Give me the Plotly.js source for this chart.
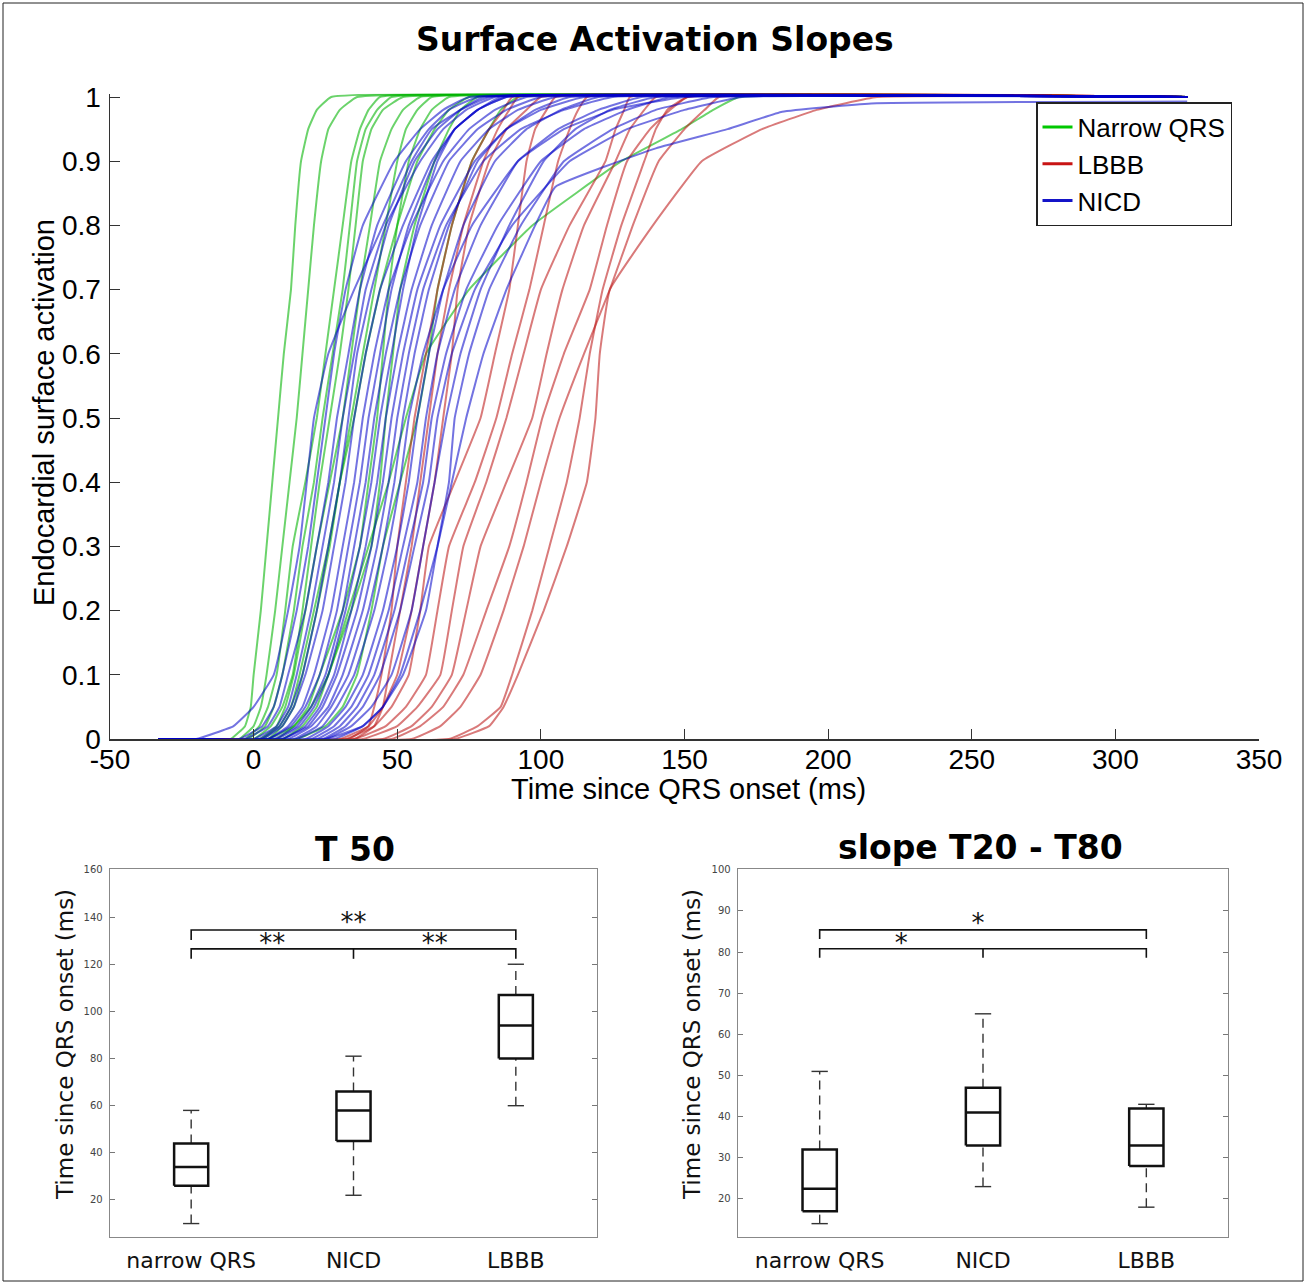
<!DOCTYPE html>
<html>
<head>
<meta charset="utf-8">
<script src="https://cdn.plot.ly/plotly-3.0.1.min.js"></script>
<style>html,body{margin:0;padding:0;background:#fff;}#chart{width:1306px;height:1284px;}</style>
</head>
<body>
<div id="chart"></div>
<script>
// ---------------- DATA ----------------
// Recording window (ms since QRS onset)
const WINDOW = [-33, 325];
// Activation levels at which each curve's time was read (first entry = last time at 0)
const LEVELS = [0, 0.02, 0.05, 0.1, 0.2, 0.3, 0.4, 0.5, 0.6, 0.7, 0.8, 0.9, 0.95, 0.98, 1];
const xTickVals = [-50, 0, 50, 100, 150, 200, 250, 300, 350];
const xTickText = ['-50', '0', '50', '100', '150', '200', '250', '300', '350'];

// Narrow QRS curves: time (ms) at each LEVELS value
const narrowQRS = [
  [-8, -3, -1, 0, 2.5, 4.5, 6.5, 8.5, 10.5, 13, 14.5, 16.5, 19, 22, 27],
  [-5, 0, 2.5, 4.5, 7.5, 10, 12.5, 15, 17, 19, 21, 23.5, 26, 30, 36],
  [-3, 2, 5, 8, 11, 13.6, 18, 22, 25, 28, 31, 34, 37, 40, 44],
  [-2, 4, 7, 10, 14, 17, 21, 24, 27.5, 31, 33.5, 36, 39, 43, 48],
  [0, 6, 10, 13.6, 17, 20, 23, 26.5, 30, 33, 35.5, 38, 41, 45, 52],
  [2, 8, 11, 14, 18, 22, 26.5, 31, 34, 37, 40.5, 44, 48, 52, 58],
  [3, 9, 13, 16, 21, 26, 30, 35, 39, 44, 50, 57, 63, 68, 75],
  [5, 10, 14, 17, 22, 26.5, 30, 34, 38, 42, 46, 50, 53, 57, 62],
  [8, 14, 19, 23, 31, 37, 40, 43, 45, 47, 50, 54, 58, 62, 68],
  [10, 17, 22, 26, 34, 41, 44, 46, 48.5, 51, 56, 63, 68, 72, 78],
  [15, 25, 31, 36, 41, 45, 51, 57, 61, 64, 69, 76, 82, 86, 92],
  [5, 14, 20, 26, 33, 40, 47, 53, 60, 75, 97, 128, 149, 160, 169]
];

// LBBB curves
const lbbb = [
  [33, 40, 42, 44.5, 48, 50, 53, 56, 60, 64, 69, 76, 82, 87, 90],
  [35, 42, 45, 47, 51, 55, 58, 61, 64, 68, 73, 80, 85, 89, 92],
  [30, 40, 45, 50, 55, 59, 63, 66, 69, 71, 75, 82, 88, 95, 100],
  [32, 42, 48, 54, 58, 61, 70, 79, 84, 89, 92, 95, 98, 102, 105],
  [35, 46, 53, 60, 64, 68, 77, 84.5, 90, 96, 101, 106, 110, 113, 116],
  [38, 50, 57, 65, 69, 73, 81, 88, 94, 100, 110, 122.5, 126, 129, 131],
  [45, 55, 62, 69, 74, 79, 88, 97, 102, 107.5, 115, 126, 131, 136, 140],
  [48, 58, 66, 73, 81, 89, 95, 100.5, 108, 117, 123, 130, 138, 145, 151],
  [55, 65, 72, 79, 87, 94, 100, 106.5, 115, 124, 132, 141, 150, 157, 162],
  [68, 78, 86, 90, 97, 103, 109, 113.5, 117, 121.5, 128, 136, 140, 144, 151],
  [70, 82, 87, 92, 101, 109, 116, 119, 120.5, 124, 139, 156, 177, 196, 217]
];

// NICD curves
const nicd = [
  [-20, -7, 0, 7, 12, 16, 18.5, 21, 26, 35, 45, 55, 62, 72, 82],
  [-5, 3, 7, 10, 15, 19, 22, 25, 28, 32, 38, 49, 58, 66, 75],
  [-3, 5, 9, 12, 18, 22, 26, 29, 33, 37, 43, 53, 61, 68, 78],
  [0, 8, 12, 15, 20, 24, 28, 31, 35, 39, 46, 58, 66, 74, 84],
  [2, 9, 13, 17, 22, 26, 30, 33, 36, 41, 47, 56, 64, 72, 80],
  [3, 10, 14, 18, 24, 28, 32, 35, 39, 44, 52, 62, 70, 78, 88],
  [5, 12, 17, 21, 27, 31, 35, 38, 42, 47, 55, 66, 75, 84, 95],
  [5, 13, 18, 23, 29, 33, 37, 40, 44, 48, 54, 63, 70, 78, 86],
  [7, 15, 20, 25, 31, 35, 39, 42, 46, 51, 58, 68, 78, 88, 100],
  [8, 16, 21, 26, 32, 37, 41, 44, 48, 52, 57, 64, 70, 78, 88],
  [10, 18, 23, 28, 34, 39, 43, 46, 50, 55, 62, 72, 82, 92, 105],
  [10, 19, 24, 29, 36, 41, 45, 48, 52, 57, 65, 77, 88, 100, 115],
  [12, 20, 26, 31, 38, 43, 47, 50, 54, 59, 67, 80, 93, 108, 125],
  [14, 22, 27, 33, 40, 45, 49, 52, 56, 61, 68, 78, 88, 98, 110],
  [15, 24, 29, 35, 42, 47, 51, 54, 59, 66, 76, 92, 108, 125, 150],
  [18, 26, 32, 38, 45, 50, 54, 57, 61, 66, 73, 84, 95, 107, 120],
  [20, 28, 34, 40, 47, 52, 57, 60, 64, 70, 79, 92, 106, 120, 135],
  [22, 30, 36, 42, 49, 54, 59, 62, 67, 74, 85, 100, 115, 130, 145],
  [24, 32, 38, 44, 51, 56, 61, 64, 69, 77, 90, 110, 130, 150, 170],
  [25, 34, 41, 48, 55, 59, 63, 67, 72, 79, 89, 101, 112, 124, 140],
  [28, 38, 45, 52, 60, 64, 68, 70, 75, 82, 93, 108, 125, 140, 160]
];
// One NICD curve that never fully reaches 1
const nicdSlowLevels = [0, 0.02, 0.05, 0.1, 0.2, 0.3, 0.4, 0.5, 0.6, 0.7, 0.8, 0.86, 0.92, 0.95, 0.977, 0.99, 0.993];
const nicdSlowTimes  = [25, 38, 45, 51, 58, 64, 69, 74, 80, 88, 98, 105, 140, 165, 184, 215, 325];

// Box plot summaries (ms)
const groups = ['narrow QRS', 'NICD', 'LBBB'];
const t50Low  = [10, 22, 60];
const t50Q1   = [26, 45, 80];
const t50Med  = [34, 58, 94];
const t50Q3   = [44, 66, 107];
const t50High = [58, 81, 120];

const slopeLow  = [14, 23, 18];
const slopeQ1   = [17, 33, 28];
const slopeMed  = [22.5, 41, 33];
const slopeQ3   = [32, 47, 42];
const slopeHigh = [51, 65, 43];

// Significance brackets: [from group, to group, level, mid tick group or null]
const t50Brackets   = [[1, 3, 134.5, null], [1, 3, 126.5, 2]];
const t50Stars      = ['**', '**', '**'];
const t50StarX      = [2, 1.5, 2.5];
const t50StarY      = [136.8, 128, 128];
const slopeBrackets = [[1, 3, 85.4, null], [1, 3, 80.8, 2]];
const slopeStars    = ['*', '*'];
const slopeStarX    = [1.97, 1.5];
const slopeStarY    = [86.5, 81.7];

// ---------------- BUILD ----------------
const W = 1306, H = 1284;
const px = v => v / W;
const py = v => (H - v) / H;

const traces = [];
function curve(times, levels, color) {
  const x = [WINDOW[0]].concat(times);
  const y = [0].concat(levels);
  if (x[x.length - 1] < WINDOW[1]) { x.push(WINDOW[1]); y.push(levels[levels.length - 1]); }
  traces.push({type: 'scatter', mode: 'lines', x: x, y: y, xaxis: 'x', yaxis: 'y',
    line: {color: color, width: 2, shape: 'spline', smoothing: 0.3}, showlegend: false, hoverinfo: 'skip'});
}
const cG = 'rgba(0,180,0,0.58)', cR = 'rgba(190,25,25,0.58)', cB = 'rgba(0,0,200,0.55)';
narrowQRS.forEach(t => curve(t, LEVELS, cG));
lbbb.forEach(t => curve(t, LEVELS, cR));
nicd.forEach(t => curve(t, LEVELS, cB));
curve(nicdSlowTimes, nicdSlowLevels, cB);

// legend entries
[['Narrow QRS', 'rgb(0,200,0)'], ['LBBB', 'rgb(200,20,20)'], ['NICD', 'rgb(20,20,200)']].forEach(d => {
  traces.push({type: 'scatter', mode: 'lines', x: [null], y: [null], name: d[0], xaxis: 'x', yaxis: 'y',
    line: {color: d[1], width: 3}, showlegend: true});
});

function boxPlot(xa, ya, low, q1, med, q3, high, brackets, stars, starX, starY, drop) {
  const hw = 0.105, cw = 0.05;
  const bx = [], by = [], wx = [], wy = [], kx = [], ky = [];
  for (let i = 0; i < groups.length; i++) {
    const c = i + 1;
    bx.push(c - hw, c + hw, c + hw, c - hw, c - hw, null, c - hw, c + hw, null);
    by.push(q1[i], q1[i], q3[i], q3[i], q1[i], null, med[i], med[i], null);
    wx.push(c, c, null, c, c, null);
    wy.push(q3[i], high[i], null, low[i], q1[i], null);
    kx.push(c - cw, c + cw, null, c - cw, c + cw, null);
    ky.push(high[i], high[i], null, low[i], low[i], null);
  }
  traces.push({type: 'scatter', mode: 'lines', x: wx, y: wy, xaxis: xa, yaxis: ya, showlegend: false,
    line: {color: '#333', width: 1.4, dash: '9px,6px'}, hoverinfo: 'skip'});
  traces.push({type: 'scatter', mode: 'lines', x: kx, y: ky, xaxis: xa, yaxis: ya, showlegend: false,
    line: {color: '#333', width: 1.4}, hoverinfo: 'skip'});
  traces.push({type: 'scatter', mode: 'lines', x: bx, y: by, xaxis: xa, yaxis: ya, showlegend: false,
    line: {color: '#111', width: 2.5}, hoverinfo: 'skip'});
  const gx = [], gy = [];
  brackets.forEach(b => {
    gx.push(b[0], b[0], b[1], b[1], null);
    gy.push(b[2] - drop, b[2], b[2], b[2] - drop, null);
    if (b[3] !== null) { gx.push(b[3], b[3], null); gy.push(b[2], b[2] - drop, null); }
  });
  traces.push({type: 'scatter', mode: 'lines', x: gx, y: gy, xaxis: xa, yaxis: ya, showlegend: false,
    line: {color: '#111', width: 1.6}, hoverinfo: 'skip'});
  traces.push({type: 'scatter', mode: 'text', x: starX, y: starY, text: stars, xaxis: xa, yaxis: ya,
    showlegend: false, textposition: 'middle center', cliponaxis: false,
    textfont: {family: 'DejaVu Sans', size: 26, color: '#111'}, hoverinfo: 'skip'});
}
boxPlot('x2', 'y2', t50Low, t50Q1, t50Med, t50Q3, t50High, t50Brackets, t50Stars, t50StarX, t50StarY, 4.2);
boxPlot('x3', 'y3', slopeLow, slopeQ1, slopeMed, slopeQ3, slopeHigh, slopeBrackets, slopeStars, slopeStarX, slopeStarY, 2.2);

const topFont = {family: 'Liberation Sans, Arial, sans-serif', size: 28, color: '#000'};
const boxYAxis = (dom, range, dtick) => ({
  domain: dom, range: range, dtick: dtick, tick0: 0, ticks: 'inside', ticklen: 5, tickcolor: '#777',
  mirror: 'allticks', showline: true, linecolor: '#888', linewidth: 1.3, showgrid: false, zeroline: false,
  tickfont: {family: 'DejaVu Sans', size: 10, color: '#444'}, ticklabelstandoff: 4
});
const boxXAxis = (dom, anchor) => ({
  domain: dom, range: [0.5, 3.5], tickvals: [1, 2, 3], ticktext: groups, ticks: '', anchor: anchor,
  mirror: true, showline: true, linecolor: '#888', linewidth: 1.3, showgrid: false, zeroline: false,
  tickfont: {family: 'DejaVu Sans', size: 22, color: '#111'}, ticklabelstandoff: 3
});
const ann = (text, x, y, font, angle) => ({text: text, x: px(x), y: py(y), xref: 'paper', yref: 'paper',
  xanchor: 'center', yanchor: 'middle', showarrow: false, textangle: angle || 0, font: font});
const titleFont = {family: 'DejaVu Sans', size: 33, color: '#000', weight: 'bold'};
const axFont = {family: 'Liberation Sans, Arial, sans-serif', size: 29, color: '#000'};
const boxTitleFont = {family: 'DejaVu Sans', size: 23, color: '#111'};

const layout = {
  width: W, height: H, margin: {l: 0, r: 0, t: 0, b: 0},
  paper_bgcolor: '#fff', plot_bgcolor: 'rgba(0,0,0,0)', showlegend: true,
  xaxis: {domain: [px(110), px(1259)], range: [-50, 350], tickvals: xTickVals, ticktext: xTickText, anchor: 'y',
    ticks: 'inside', ticklen: 10, tickcolor: '#333', showline: true, linecolor: '#333', linewidth: 1.5,
    showgrid: false, zeroline: false, tickfont: topFont, ticklabelstandoff: -5},
  yaxis: {domain: [py(739), py(93.8)], range: [0, 1.005], dtick: 0.1, tick0: 0, anchor: 'x',
    ticks: 'inside', ticklen: 10, tickcolor: '#333', showline: true, linecolor: '#333', linewidth: 1.5,
    showgrid: false, zeroline: false, tickfont: topFont, ticklabelstandoff: 2},
  xaxis2: boxXAxis([px(110), px(597)], 'y2'),
  yaxis2: Object.assign(boxYAxis([py(1237), py(869)], [4.3, 160.4], 20), {anchor: 'x2'}),
  xaxis3: boxXAxis([px(738), px(1228)], 'y3'),
  yaxis3: Object.assign(boxYAxis([py(1237), py(869)], [10.75, 100.2], 10), {anchor: 'x3'}),
  legend: {x: px(1036), y: py(102), xanchor: 'left', yanchor: 'top', bgcolor: '#fff',
    bordercolor: '#222', borderwidth: 1.5, font: {family: 'Liberation Sans, Arial, sans-serif', size: 26, color: '#000'},
    tracegroupgap: 0, itemwidth: 30},
  annotations: [
    ann('Surface Activation Slopes', 655, 39, titleFont),
    ann('Endocardial surface activation', 44, 413, axFont, -90),
    ann('Time since QRS onset (ms)', 688, 789, axFont),
    ann('T 50', 355, 849, titleFont),
    ann('slope T20 - T80', 980, 847, titleFont),
    ann('Time since QRS onset (ms)', 65, 1045, boxTitleFont, -90),
    ann('Time since QRS onset (ms)', 692, 1045, boxTitleFont, -90)
  ],
  shapes: [
    {type: 'rect', xref: 'paper', yref: 'paper', x0: px(3), x1: px(1303), y0: py(1281), y1: py(3),
      line: {color: '#222', width: 1}}
  ]
};

Plotly.newPlot('chart', traces, layout, {displayModeBar: false, staticPlot: true});
</script>
</body>
</html>
